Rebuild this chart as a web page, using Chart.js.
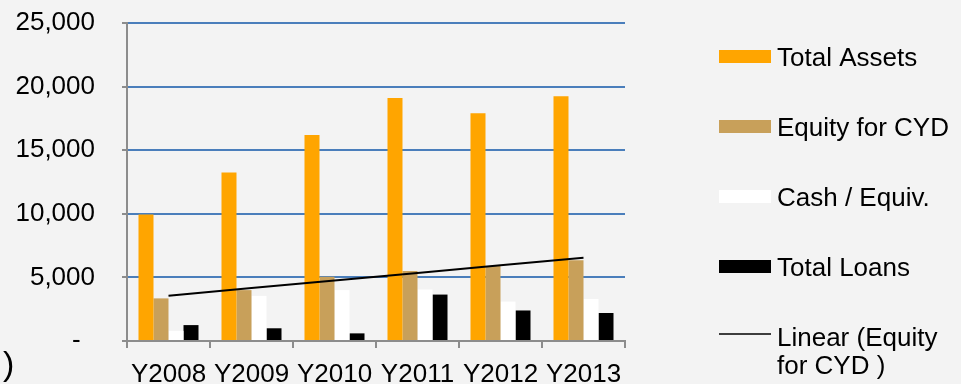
<!DOCTYPE html>
<html>
<head>
<meta charset="utf-8">
<script src="https://cdn.jsdelivr.net/npm/chart.js@4"></script>
<style>
  body { margin: 0; background: #f3f3f3; }
  canvas { display: block; }
</style>
</head>
<body>
<canvas id="myChart" width="961" height="384"></canvas>
<script>
// values
const categories = ['Y2008', 'Y2009', 'Y2010', 'Y2011', 'Y2012', 'Y2013']
const totalAssets = [9950, 13250, 16200, 19100, 17900, 19250]
const equityCYD = [3350, 4000, 5050, 5500, 5900, 6350]
const cashEquiv = [800, 3550, 4000, 4050, 3100, 3300]
const totalLoans = [1250, 1000, 600, 3650, 2400, 2200]
const trendEquity = [3560, 4160, 4760, 5350, 5950, 6550]
const yTicks = [0, 5000, 10000, 15000, 20000, 25000]

const FONT = 'Liberation Sans, Arial, sans-serif'

// legend drawn by hand on the right side (one label needs 2 lines)
const sideLegend = {
  id: 'sideLegend',
  afterDraw(chart) {
    const ctx = chart.ctx
    ctx.save()
    ctx.font = '26px ' + FONT
    ctx.textBaseline = 'middle'
    ctx.fillStyle = '#000'
    let y = 57
    const items = [0, 1, 2, 3, 4]
    items.forEach(i => {
      const ds = chart.data.datasets.find(d => d.legendIndex == i)
      if (ds.type == 'line') {
        ctx.strokeStyle = ds.borderColor
        ctx.lineWidth = 1.5
        ctx.beginPath()
        ctx.moveTo(719, y - 3)
        ctx.lineTo(771, y - 3)
        ctx.stroke()
      } else {
        ctx.fillStyle = ds.backgroundColor
        ctx.fillRect(719, y - 7, 52, 13)
      }
      ctx.fillStyle = '#000'
      // wrap words
      let words = ds.label.split(' ')
      let lines = []
      let cur = ''
      words.forEach(w => {
        let t = cur ? cur + ' ' + w : w
        if (ctx.measureText(t).width > 180 && cur) {
          lines.push(cur)
          cur = w
        } else cur = t
      })
      lines.push(cur)
      lines.forEach((l, k) => ctx.fillText(l, 777, y + 2 + k * 28))
      y += 70
    })
    // stray bracket at bottom left
    ctx.font = '34px ' + FONT
    ctx.fillText(')', 3, 366)
    ctx.restore()
  }
}

const ctx = document.getElementById('myChart').getContext('2d')
const myChart = new Chart(ctx, {
  type: 'bar',
  data: {
    labels: categories,
    datasets: [
      {
        type: 'line',
        label: 'Linear (Equity for CYD )',
        legendIndex: 4,
        data: trendEquity,
        borderColor: '#000',
        borderWidth: 2,
        pointRadius: 0,
        tension: 0,
        fill: false,
        order: 0
      },
      { label: 'Total Assets', legendIndex: 0, data: totalAssets, backgroundColor: '#ffa500', order: 1 },
      { label: 'Equity for CYD', legendIndex: 1, data: equityCYD, backgroundColor: '#c8a05a', order: 1 },
      { label: 'Cash / Equiv.', legendIndex: 2, data: cashEquiv, backgroundColor: '#ffffff', order: 1 },
      { label: 'Total Loans', legendIndex: 3, data: totalLoans, backgroundColor: '#000000', order: 1 }
    ]
  },
  options: {
    responsive: false,
    animation: false,
    categoryPercentage: 0.723,
    barPercentage: 1,
    layout: { padding: { left: 0, top: 23, right: 336, bottom: 0 } },
    plugins: {
      legend: { display: false },
      tooltip: { enabled: false }
    },
    scales: {
      x: {
        offset: true,
        afterFit: s => { s.height = 43; s.paddingLeft = 0; s.paddingRight = 0 },
        border: { color: '#8c8c8c', width: 2 },
        grid: {
          offset: true,
          drawOnChartArea: false,
          color: '#8c8c8c',
          lineWidth: 2,
          tickLength: 7
        },
        ticks: {
          color: '#000',
          font: { family: FONT, size: 26 },
          padding: 11,
          maxRotation: 0,
          autoSkip: false
        }
      },
      y: {
        min: 0,
        max: 25000,
        afterFit: s => { s.width = 127; s.paddingTop = 0; s.paddingBottom = 0 },
        afterBuildTicks: s => { s.ticks = yTicks.map(v => ({ value: v })) },
        border: { color: '#8c8c8c', width: 2 },
        grid: {
          color: c => c.tick && c.tick.value == 0 ? '#8c8c8c' : '#4a7ebb',
          tickColor: '#8c8c8c',
          lineWidth: 2,
          tickLength: 5
        },
        ticks: {
          color: '#000',
          font: { family: FONT, size: 26 },
          padding: 27,
          callback: v => v == 0 ? '-  ' : v.toLocaleString('en-US')
        }
      }
    }
  },
  plugins: [sideLegend]
})
</script>
</body>
</html>
